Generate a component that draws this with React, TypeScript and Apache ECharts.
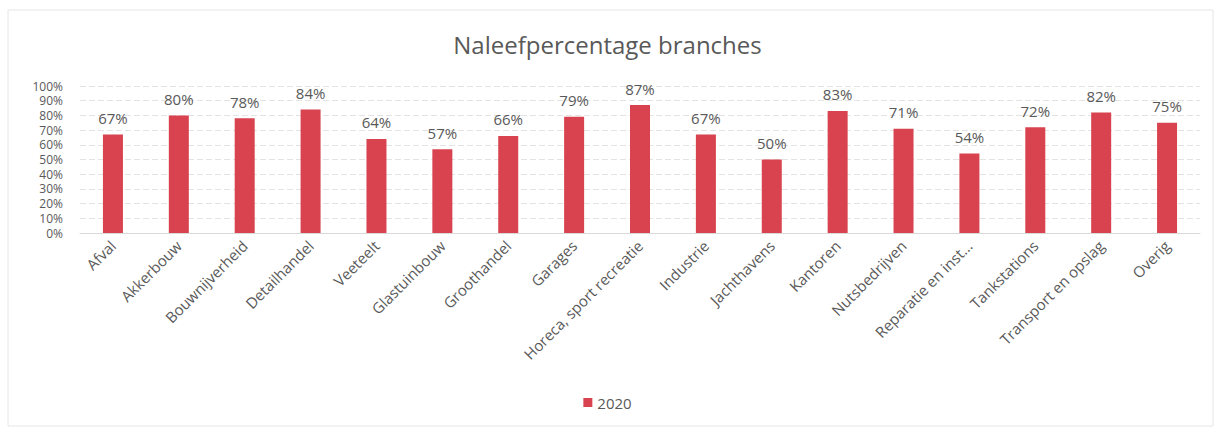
import React, { useEffect, useRef } from "react";
import * as echarts from "echarts";

const categories = [
  "Afval", "Akkerbouw", "Bouwnijverheid", "Detailhandel", "Veeteelt", "Glastuinbouw",
  "Groothandel", "Garages", "Horeca, sport recreatie", "Industrie", "Jachthavens",
  "Kantoren", "Nutsbedrijven", "Reparatie en inst...", "Tankstations",
  "Transport en opslag", "Overig",
];
const values2020 = [67, 80, 78, 84, 64, 57, 66, 79, 87, 67, 50, 83, 71, 54, 72, 82, 75];
const seriesName = "2020";
const titleText = "Naleefpercentage branches";

export default function App() {
  const ref = useRef<HTMLDivElement>(null);
  useEffect(() => {
    if (!ref.current) return;
    const chart = echarts.init(ref.current, null, { renderer: "svg" });
    const font = "'Open Sans', 'Noto Sans', sans-serif";
    chart.setOption({
      animation: false,
      backgroundColor: "#ffffff",
      textStyle: { fontFamily: font },
      title: {
        text: titleText,
        left: "center",
        top: 27,
        textStyle: { fontSize: 24, fontWeight: "normal", color: "#595959", fontFamily: font },
      },
      legend: {
        bottom: 13,
        left: "center",
        itemWidth: 9,
        itemHeight: 9,
        icon: "rect",
        textStyle: { fontSize: 15, color: "#595959", fontFamily: font },
        data: [seriesName],
      },
      grid: { left: 80, right: 15, top: 86, bottom: 195, containLabel: false },
      xAxis: {
        type: "category",
        data: categories,
        axisLine: { show: true, lineStyle: { color: "#d9d9d9" } },
        axisTick: { show: false },
        axisLabel: {
          rotate: 45,
          interval: 0,
          fontSize: 15,
          color: "#595959",
          margin: 10,
          fontFamily: font,
        },
      },
      yAxis: {
        type: "value",
        min: 0,
        max: 100,
        interval: 10,
        axisLine: { show: false },
        axisTick: { show: false },
        splitLine: { lineStyle: { color: "#e3e3e3", type: [6, 3] } },
        axisLabel: {
          formatter: "{value}%",
          fontSize: 12,
          lineHeight: 12,
          showMinLabel: true,
          showMaxLabel: true,
          hideOverlap: false,
          color: "#595959",
          margin: 17,
          fontFamily: font,
        },
      },
      series: [
        {
          name: seriesName,
          type: "bar",
          data: values2020,
          barWidth: 20,
          itemStyle: { color: "#d8434f" },
          label: {
            show: true,
            position: "top",
            distance: 9,
            formatter: "{c}%",
            fontSize: 15,
            color: "#595959",
            fontFamily: font,
          },
        },
      ],
      graphic: [
        {
          type: "rect",
          shape: { x: 8, y: 10, width: 1205, height: 416 },
          style: { fill: "none", stroke: "#e6e6e6", lineWidth: 1 },
          silent: true,
        },
      ],
    });
    return () => chart.dispose();
  }, []);
  return (
    <div
      ref={ref}
      style={{ position: "fixed", left: 0, top: 0, width: 1215, height: 428 }}
    />
  );
}
